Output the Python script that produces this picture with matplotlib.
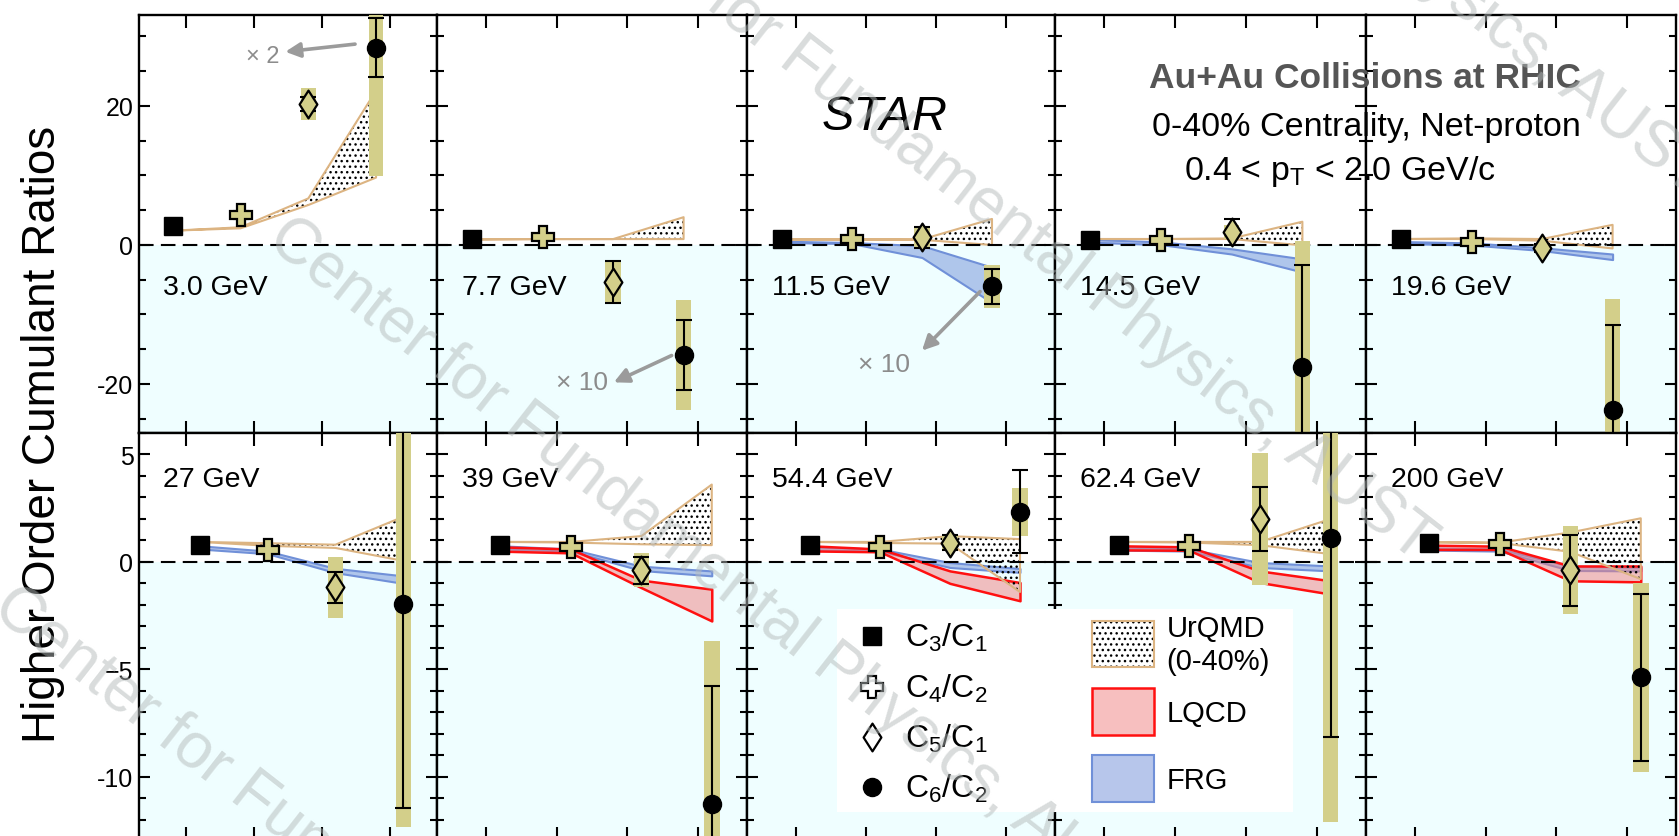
import matplotlib
matplotlib.use('Agg')
import matplotlib.pyplot as plt
from matplotlib.patches import Rectangle
from matplotlib.path import Path
import numpy as np

W, H = 1679, 837
plt.rcParams['font.family'] = ['Liberation Sans', 'DejaVu Sans']
plt.rcParams['mathtext.fontset'] = 'custom'
plt.rcParams['mathtext.rm'] = 'Liberation Sans'
plt.rcParams['mathtext.it'] = 'Liberation Sans:italic'
plt.rcParams['mathtext.bf'] = 'Liberation Sans:bold'
plt.rcParams['hatch.linewidth'] = 1.0

# ---------------- data ----------------
energies = ['3.0 GeV', '7.7 GeV', '11.5 GeV', '14.5 GeV', '19.6 GeV',
            '27 GeV', '39 GeV', '54.4 GeV', '62.4 GeV', '200 GeV']
order_labels = [r'C$_3$/C$_1$', r'C$_4$/C$_2$', r'C$_5$/C$_1$', r'C$_6$/C$_2$']
model_labels = ['UrQMD\n(0-40%)', 'LQCD', 'FRG']

c31 = [2.8, 0.8, 0.8, 0.65, 0.8, 0.78, 0.78, 0.78, 0.78, 0.87]
c42 = [4.3, 1.2, 0.8, 0.76, 0.38, 0.56, 0.7, 0.67, 0.75, 0.82]
c42_stat = [0.6, 0.4, 0.3, 0.2, 0.15, 0.1, 0.08, 0.08, 0.08, 0.08]
c42_sys = [0.6, 0.4, 0.3, 0.2, 0.15, 0.1, 0.08, 0.08, 0.08, 0.08]
c51 = [20.3, -5.3, 1.1, 1.9, -0.48, -1.19, -0.39, 0.9, 2.0, -0.39]
c51_stat = [1.0, 3.0, 1.55, 1.9, 0.6, 0.73, 0.63, 0.35, 1.47, 1.65]
c51_sys = [2.25, 3.05, 1.5, 1.0, 0.5, 1.4, 0.8, 0.3, 3.07, 2.04]
c62 = [28.4, -15.8, -5.95, -17.6, -23.7, -1.94, -11.28, 2.33, 1.13, -5.38]
c62_stat = [4.3, 5.0, 2.5, 14.7, 12.2, 9.5, 5.5, 1.93, 9.3, 3.87]
c62_sys = [18.5, 7.9, 3.1, 18.2, 16.0, 10.4, 7.6, 1.12, 13.26, 4.38]

urqmd_hi = [[2.06, 2.55, 6.7, 22.2], [0.8, 0.85, 0.85, 4.0], [0.8, 0.8, 0.8, 3.75],
            [0.86, 0.86, 0.94, 3.35], [0.86, 0.95, 0.86, 2.9], [0.93, 0.87, 0.8, 2.1],
            [0.93, 0.93, 1.2, 3.6], [0.93, 0.93, 1.2, 1.06], [0.93, 0.93, 0.93, 2.0],
            [0.9, 0.9, 1.37, 2.03]]
urqmd_lo = [[2.06, 2.4, 5.75, 9.7], [0.8, 0.85, 0.85, 0.85], [0.8, 0.8, 0.75, 0.0],
            [0.86, 0.86, 0.86, -0.05], [0.86, 0.86, 0.62, -0.5], [0.93, 0.75, 0.65, 0.05],
            [0.93, 0.9, 0.82, 0.78], [0.93, 0.88, 0.85, -1.4], [0.93, 0.9, 0.78, 0.36],
            [0.93, 0.88, 0.47, -0.8]]
lqcd_hi = [None, None, None, None, None, None,
           [0.7, 0.6, -0.85, -1.27], [0.75, 0.6, -0.42, -0.96],
           [0.75, 0.7, -0.42, -0.88], [0.78, 0.73, -0.19, -0.19]]
lqcd_lo = [None, None, None, None, None, None,
           [0.5, 0.42, -1.2, -2.75], [0.51, 0.47, -1.0, -1.81],
           [0.56, 0.54, -0.96, -1.5], [0.58, 0.58, -0.88, -0.93]]
frg_hi = [None, None, [0.55, 0.35, -0.1, -3.2], [0.8, 0.45, -0.55, -2.0],
          [0.5, 0.3, -0.4, -1.3], [0.75, 0.5, -0.3, -0.65], [0.75, 0.6, -0.2, -0.42],
          [0.7, 0.6, -0.03, -0.31], [0.7, 0.6, -0.03, -0.19], [0.65, 0.6, -0.2, -0.25]]
frg_lo = [None, None, [0.35, 0.2, -1.8, -8.3], [0.4, 0.05, -1.3, -3.9],
          [0.2, 0.0, -0.8, -2.1], [0.6, 0.38, -0.5, -1.0], [0.6, 0.5, -0.4, -0.65],
          [0.55, 0.5, -0.26, -0.49], [0.55, 0.5, -0.26, -0.42], [0.55, 0.5, -0.4, -0.42]]

scale_notes = {0: '× 2', 1: '× 10', 2: '× 10'}

# ---------------- style ----------------
KHAKI = '#d3cf8a'
CYAN = '#effeff'
TAN = '#dcb482'
RED_E = '#ff1010'
RED_F = (0.94, 0.50, 0.50, 0.5)
BLUE_E = '#7090d8'
BLUE_F = (0.44, 0.56, 0.85, 0.5)
GRAY = '#8c8c8c'
DIAMOND = Path([(0, 1), (0.64, 0), (0, -1), (-0.64, 0), (0, 1)],
               [Path.MOVETO, Path.LINETO, Path.LINETO, Path.LINETO, Path.CLOSEPOLY])

col_edges = [139, 437, 747, 1055, 1366, 1676]
row_edges = [16, 434, 840]
ylims = [(-27.05, 33.09), (-12.9, 6.0)]
xpos = [[0.8, 1.8, 2.8, 3.8], [1.2, 2.2, 3.2, 4.2]]
ymaj = [[-20, 0, 20], [-10, -5, 0, 5]]
ymaj_lab = [['-20', '0', '20'], ['-10', '\u22125', '0', '5']]
ymin = [np.arange(-25, 35, 5), np.arange(-12, 7, 1)]
lab_y = [-7.0, 3.54]

note_pos = {0: ((2.12, 27.2), (3.49, 28.9), (2.46, 27.8)),
            1: ((2.36, -19.7), (3.63, -15.9), (2.81, -19.76)),
            2: ((2.26, -17.1), (3.63, -6.7), (2.80, -15.2))}


def frac_rect(x0, y0, x1, y1):
    return [x0 / W, 1 - y1 / H, (x1 - x0) / W, (y1 - y0) / H]


fig = plt.figure(figsize=(W / 100, H / 100), dpi=100)

for i in range(10):
    r, c = divmod(i, 5)
    ax = fig.add_axes(frac_rect(col_edges[c], row_edges[r], col_edges[c + 1], row_edges[r + 1]))
    ax.set_xlim(0.3, 4.7)
    ax.set_ylim(*ylims[r])
    ax.axhspan(ylims[r][0], 0, color=CYAN, lw=0, zorder=0)
    ax.axhline(0, color='k', lw=1.5, ls=(0, (7, 3.5)), zorder=2.5)
    x = xpos[r]

    if frg_hi[i] is not None:
        ax.fill_between(x, frg_lo[i], frg_hi[i], facecolor=BLUE_F, edgecolor=BLUE_E,
                        lw=1.5, zorder=1.2)
    if lqcd_hi[i] is not None:
        ax.fill_between(x, lqcd_lo[i], lqcd_hi[i], facecolor=RED_F, edgecolor=RED_E,
                        lw=1.8, zorder=1.4)
    ax.fill_between(x, urqmd_lo[i], urqmd_hi[i], facecolor='none', edgecolor='k',
                    lw=0, hatch='...', zorder=1.6)
    ax.fill_between(x, urqmd_lo[i], urqmd_hi[i], facecolor='none', edgecolor=TAN,
                    lw=1.5, zorder=1.7)

    sx = [x[1], x[2], x[3]]
    sv = [c42[i], c51[i], c62[i]]
    ss = [c42_sys[i], c51_sys[i], c62_sys[i]]
    ax.bar(sx, [2 * s for s in ss], bottom=[v - s for v, s in zip(sv, ss)],
           width=0.22, color=KHAKI, lw=0, zorder=3)
    ax.errorbar(sx, sv, yerr=[c42_stat[i], c51_stat[i], c62_stat[i]], fmt='none',
                ecolor='k', elinewidth=1.5, capsize=6, capthick=1.5, zorder=4)
    ax.plot(x[0], c31[i], 's', ms=12.5, color='k', zorder=5)
    ax.plot(x[1], c42[i], 'P', ms=16, mfc=KHAKI, mec='k', mew=1.6, zorder=5)
    ax.plot(x[2], c51[i], marker=DIAMOND, ms=20, mfc=KHAKI, mec='k', mew=1.6, zorder=5)
    ax.plot(x[3], c62[i], 'o', ms=13, color='k', zorder=5)

    ax.text(0.65, lab_y[r], energies[i], fontsize=20.5, ha='left', va='baseline', zorder=6)

    if i in scale_notes:
        (tx, ty), tail, head = note_pos[i]
        ax.text(tx, ty, scale_notes[i], fontsize=19 if i else 17, color=GRAY,
                ha='center', va='center', zorder=6)
        ax.annotate('', xy=head, xytext=tail,
                    arrowprops=dict(arrowstyle='-|>', color='#9b9b9b', lw=2.6,
                                    mutation_scale=22, shrinkA=0, shrinkB=0), zorder=6)

    ax.set_xticks([1, 2, 3, 4])
    ax.tick_params(axis='x', which='both', direction='in', top=True, bottom=True,
                   labelbottom=False, length=9, width=1.5)
    ax.set_yticks(ymaj[r])
    ax.set_yticks(ymin[r], minor=True)
    ax.tick_params(axis='y', which='major', direction='in', left=True, right=True,
                   length=8, width=1.5, pad=4)
    ax.tick_params(axis='y', which='minor', direction='in', left=True, right=True,
                   length=5, width=1.5)
    if c == 0:
        ax.set_yticklabels(ymaj_lab[r], fontsize=18)
    else:
        ax.tick_params(axis='y', labelleft=False)
    for sp in ax.spines.values():
        sp.set_linewidth(1.7)

# ---------------- texts ----------------
fig.text(55 / W, 1 - 434 / H, 'Higher Order Cumulant Ratios', rotation=90, fontsize=33,
         ha='center', va='baseline', rotation_mode='anchor')
fig.text(885 / W, 1 - 130 / H, 'STAR', style='italic', fontsize=35, ha='center',
         va='baseline', zorder=6)
fig.text(1581 / W, 1 - 88.3 / H, 'Au+Au Collisions at RHIC', fontsize=25.5,
         fontweight='bold', color='#555555', ha='right', va='baseline', zorder=6)
fig.text(1581 / W, 1 - 136 / H, '0-40% Centrality, Net-proton', fontsize=24.5,
         ha='right', va='baseline', zorder=6)
fig.text(1495.7 / W, 1 - 180 / H, r'0.4 < p$_{\mathrm{T}}$ < 2.0 GeV/c', fontsize=24.5,
         ha='right', va='baseline', zorder=6)

# ---------------- legend ----------------
LX0, LY0, LX1, LY1 = 836.7, 610, 1293.3, 813.3
lax = fig.add_axes(frac_rect(LX0, LY0, LX1, LY1))
lax.set_zorder(5)
lax.set_xlim(0, LX1 - LX0)
lax.set_ylim(LY1 - LY0, 0)
lax.set_facecolor('white')
lax.set_xticks([])
lax.set_yticks([])
for sp in lax.spines.values():
    sp.set_visible(False)
row_c = [26.7, 78.3, 128.3, 178.3]
row_b = [36.7, 88.3, 138.3, 188.3]
lax.plot(35, row_c[0], 's', ms=12.5, color='k')
lax.plot(35, row_c[1], 'P', ms=16, mfc='white', mec='k', mew=1.6)
lax.plot(35, row_c[2], marker=DIAMOND, ms=20, mfc='white', mec='k', mew=1.6)
lax.plot(35, row_c[3], 'o', ms=13, color='k')
for lab, yb in zip(order_labels, row_b):
    lax.text(68, yb, lab, fontsize=23, va='baseline', ha='left')
px0, pw = 255, 62.6
lax.add_patch(Rectangle((px0, 11.7), pw, 46.6, facecolor='white', edgecolor='k', lw=0, hatch='...'))
lax.add_patch(Rectangle((px0, 11.7), pw, 46.6, facecolor='none', edgecolor=TAN, lw=1.5))
lax.add_patch(Rectangle((px0, 79.3), pw, 46.7, facecolor=RED_F, edgecolor=RED_E, lw=1.8))
lax.add_patch(Rectangle((px0, 146), pw, 46.7, facecolor=BLUE_F, edgecolor=BLUE_E, lw=1.5))
lax.text(330, 26.7, 'UrQMD', fontsize=21, va='baseline')
lax.text(330, 60, '(0-40%)', fontsize=21, va='baseline')
lax.text(330, 111.7, model_labels[1], fontsize=21, va='baseline')
lax.text(330, 179.3, model_labels[2], fontsize=21, va='baseline')

# ---------------- watermark ----------------
wm = 'Center for Fundamental Physics, AUST'
for (cx, cy) in [(439, 942), (714, 573), (988, 207), (1262, -159)]:
    fig.text(cx / W, 1 - cy / H, wm, fontsize=46, color='#b4baba', alpha=0.5,
             rotation=-38, rotation_mode='anchor', ha='center', va='center', zorder=10)

fig.savefig('out.png', dpi=100)
